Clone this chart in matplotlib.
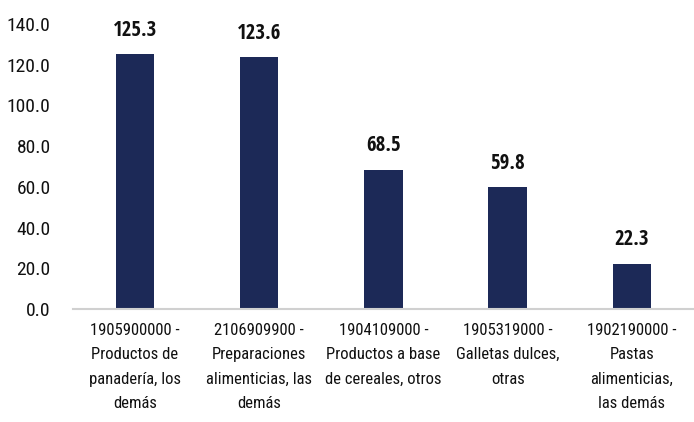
import matplotlib
matplotlib.use("Agg")
import matplotlib.pyplot as plt
from matplotlib import font_manager
from matplotlib.font_manager import FontProperties

categories = [
    "1905900000 -\nProductos de\npanadería, los\ndemás",
    "2106909900 -\nPreparaciones\nalimenticias, las\ndemás",
    "1904109000 -\nProductos a base\nde cereales, otros",
    "1905319000 -\nGalletas dulces,\notras",
    "1902190000 -\nPastas\nalimenticias,\nlas demás",
]
values = [125.3, 123.6, 68.5, 59.8, 22.3]
yticks = [0, 20, 40, 60, 80, 100, 120, 140]


def find_font(bold):
    cands = []
    for f in font_manager.fontManager.ttflist:
        fn = f.fname.split('/')[-1].lower()
        if not ('condensed' in fn or 'narrow' in fn or f.stretch in ('condensed', 'semi-condensed')):
            continue
        if 'italic' in fn or 'oblique' in fn or f.style != 'normal':
            continue
        if 'semicondensed' in fn or 'extracondensed' in fn or 'ultracondensed' in fn:
            continue
        w = f.weight if isinstance(f.weight, int) else 400
        target = 700 if bold else 400
        pref = 0
        nm = f.name.lower()
        if 'open sans' in nm:
            pref = -3
        elif 'roboto' in nm:
            pref = -2
        elif 'liberation' in nm:
            pref = -1
        cands.append((abs(w - target), pref, f.fname))
    if not cands:
        return FontProperties(family='DejaVu Sans', weight='bold' if bold else 'normal')
    cands.sort()
    return FontProperties(fname=cands[0][2])


fp_reg = find_font(False)
fp_bold = find_font(True)

fig = plt.figure(figsize=(6.94, 4.22), dpi=100)
ax = fig.add_axes([0.105, 0.268, 0.895, 0.675])
x = list(range(len(categories)))
ax.bar(x, values, width=0.31, color="#1c2957")
for xi, v in zip(x, values):
    ax.annotate(f"{v:.1f}", (xi, v), xytext=(0, 17), textcoords="offset points",
                ha="center", va="center", fontproperties=fp_bold, fontsize=15, color="#111111")
ax.set_xlim(-0.5, len(categories) - 0.5)
ax.set_ylim(0, 140)
ax.set_yticks(yticks)
ax.set_yticklabels([f"{t:.1f}" for t in yticks], fontproperties=fp_reg, fontsize=14, color="#111111")
ax.set_xticks(x)
ax.set_xticklabels(categories, fontproperties=fp_reg, fontsize=12, color="#111111", linespacing=1.78)
ax.tick_params(axis="both", length=0)
ax.tick_params(axis="x", pad=10)
ax.tick_params(axis="y", pad=16)
for s in ["top", "right", "left"]:
    ax.spines[s].set_visible(False)
ax.spines["bottom"].set_color("#d0d0d0")
ax.spines["bottom"].set_linewidth(1.5)
fig.savefig("out.png", dpi=100)
